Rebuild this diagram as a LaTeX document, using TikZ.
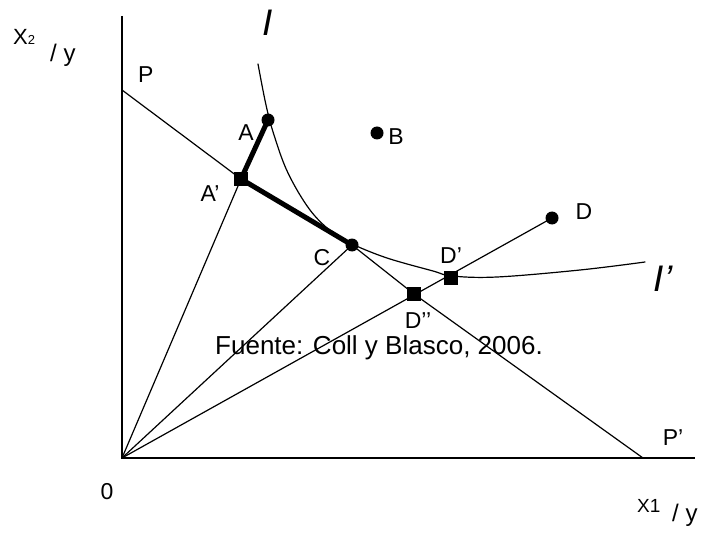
\documentclass[tikz,border=0pt]{standalone}
\usepackage{fontspec}
\setmainfont{Liberation Sans}
\begin{document}
\begin{tikzpicture}[x=1pt,y=-1pt,
  thinline/.style={line width=1.2pt, line cap=round, line join=round},
  axisline/.style={line width=1.4pt},
  thickline/.style={line width=5pt, line join=round, line cap=round},
  lbl/.style={inner sep=0pt, font=\fontsize{23}{27}\selectfont},
  bigI/.style={inner sep=0pt, font=\fontsize{37}{40}\selectfont\itshape},
  dotnode/.style={circle, fill=black, inner sep=0pt, minimum size=13pt},
  sqnode/.style={rectangle, fill=black, inner sep=0pt, minimum size=14pt}]
\useasboundingbox (0,0) rectangle (703,537);

% key points
\coordinate (O) at (122,458);
\coordinate (Ytop) at (122,16);
\coordinate (Xend) at (695,458);
\coordinate (P) at (122,90);
\coordinate (Pp) at (643,458);
\coordinate (Ap) at (241,179);
\coordinate (A) at (268,120);
\coordinate (C) at (352,245);
\coordinate (D) at (552,218);
\coordinate (Dpp) at (414,294);
\coordinate (Dp) at (451,278);
\coordinate (B) at (377,133);

% D'' label and caption
\node[lbl] (lDpp) at (418,321) {D’’};
\node[inner sep=0pt, fill=white, font=\fontsize{26}{30}\selectfont] (cap) at (379,348) {Fuente: Coll y Blasco, 2006.};

% axes
\draw[axisline] (Ytop) -- (O) -- (Xend);

% budget line
\draw[thinline] (P) -- (Ap) -- (C) -- (Dpp) -- (Pp);

% rays from origin
\draw[thinline] (O) -- (Ap);
\draw[thinline] (O) -- (C);
\draw[thinline] (O) -- (D);

% indifference curve
\draw[thinline] plot[smooth, tension=0.6] coordinates {(258,64) (266,105) (274,135) (288,173) (310,210) (333,233) (352,244) (387,258) (433,271) (452,276) (497,277) (580,270) (645,262)};

% thick path
\draw[thickline] (A) -- (Ap) -- (C);

% markers
\node[dotnode] (mA) at (A) {};
\node[dotnode] (mB) at (B) {};
\node[dotnode] (mC) at (C) {};
\node[dotnode] (mD) at (D) {};
\node[sqnode] (mAp) at (Ap) {};
\node[sqnode] (mDp) at (Dp) {};
\node[sqnode] (mDpp) at (Dpp) {};

% labels
\node[inner sep=0pt, anchor=base west] (lX2) at (13,45) {\fontsize{22}{26}\selectfont X\fontsize{13}{15}\selectfont 2};
\node[inner sep=0pt, anchor=base west, font=\fontsize{24}{28}\selectfont] (lY2) at (50,62) {/ y};
\node[lbl, anchor=base west] (lP) at (138,83) {P};
\node[bigI] (lI) at (268,23) {I};
\node[lbl] (lA) at (246,133) {A};
\node[lbl] (lB) at (396,137) {B};
\node[lbl] (lAp) at (210,194) {A’};
\node[lbl] (lC) at (322,258) {C};
\node[lbl] (lDp) at (451,256) {D’};
\node[lbl] (lD) at (584,212) {D};
\node[bigI] (lIp) at (663,279) {I’};
\node[lbl] (lPp) at (673,438) {P’};
\node[lbl] (l0) at (107,492) {0};
\node[inner sep=0pt, anchor=base west, font=\fontsize{19}{22}\selectfont] (lX1) at (637,512) {X1};
\node[inner sep=0pt, anchor=base west, font=\fontsize{24}{28}\selectfont] (lY1) at (672,521) {/ y};
\end{tikzpicture}
\end{document}
